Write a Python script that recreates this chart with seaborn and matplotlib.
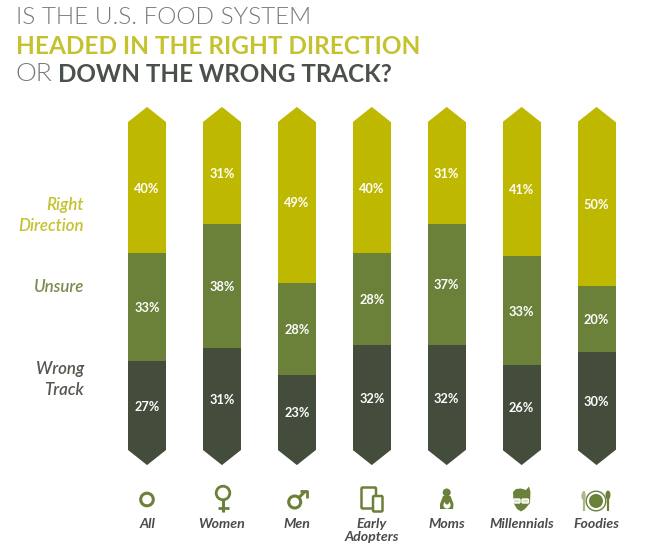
import matplotlib
matplotlib.use("Agg")
import matplotlib.pyplot as plt
from matplotlib.patches import Polygon, Circle, FancyBboxPatch, Ellipse
import pandas as pd
import seaborn as sns

categories = ["All", "Women", "Men", "Early\nAdopters", "Moms", "Millennials", "Foodies"]
right_direction = [40, 31, 49, 40, 31, 41, 50]
unsure = [33, 38, 28, 28, 37, 33, 20]
wrong_track = [27, 31, 23, 32, 32, 26, 30]
series_names = ["Wrong Track", "Unsure", "Right Direction"]

YEL, GRN, DRK = "#BFB800", "#6B8039", "#444C3C"
series_colors = [DRK, GRN, YEL]
W, H = 650, 553
FONT = "Lato"

sns.set_theme(style="white")
plt.rcParams["font.family"] = [FONT, "DejaVu Sans"]

fig = plt.figure(figsize=(W / 100, H / 100), dpi=100, facecolor="white")
ax = fig.add_axes([109.6 / W, 1 - 450 / H, 524.4 / W, 328 / H])
ax.patch.set_alpha(0)

df = pd.DataFrame({"group": categories, "Wrong Track": wrong_track,
                   "Unsure": unsure, "Right Direction": right_direction})
bottom = [0] * len(categories)
layers = []
for name, color in zip(series_names, series_colors):
    n = len(ax.patches)
    sns.barplot(data=df, x="group", y=name, color=color, width=0.507, bottom=bottom,
                saturation=1, ax=ax, linewidth=0, order=categories)
    for p, v in zip(ax.patches[n:], df[name]):
        ax.text(p.get_x() + p.get_width() / 2, p.get_y() + p.get_height() / 2 - 0.3,
                f"{v}%", ha="center", va="center", color="white",
                fontsize=9.2, fontweight="bold")
    layers.append(ax.patches[n:])
    bottom = [b + v for b, v in zip(bottom, df[name])]

CAP = 4.6  # arrow height in percent units
for p in layers[0]:
    x0, x1 = p.get_x(), p.get_x() + p.get_width()
    ax.add_patch(Polygon([(x0, 0), (x1, 0), ((x0 + x1) / 2, -CAP)], closed=True,
                         fc=DRK, ec="none", clip_on=False))
for p in layers[2]:
    x0, x1 = p.get_x(), p.get_x() + p.get_width()
    top = p.get_y() + p.get_height()
    ax.add_patch(Polygon([(x0, top), (x1, top), ((x0 + x1) / 2, top + CAP)], closed=True,
                         fc=YEL, ec="none", clip_on=False))

ax.set_xlim(-0.5, 6.5)
ax.set_ylim(0, 100)
ax.set_xlabel("")
ax.set_ylabel("")
ax.set_yticks([])
ax.set_xticks(range(len(categories)))
ax.set_xticklabels(categories, fontsize=10.2, fontweight="bold", fontstyle="italic",
                   color="#4A4C4C", linespacing=1.05)
ax.tick_params(axis="x", length=0, pad=49)
sns.despine(ax=ax, left=True, bottom=True)

# overlay in image pixels for title, side labels and icons
ov = fig.add_axes([0, 0, 1, 1], zorder=5)
ov.set_xlim(0, W)
ov.set_ylim(H, 0)
ov.axis("off")
ov.patch.set_alpha(0)

ov.text(15.5, 18, "IS THE U.S. FOOD SYSTEM", fontsize=17.6, fontweight=300, color="#77787A", va="center")
ov.text(15.5, 46, "HEADED IN THE RIGHT DIRECTION", fontsize=17.6, fontweight="bold", color="#C5C230", va="center")
ov.text(15.5, 74, "OR", fontsize=19, fontweight=300, color="#77787A", va="center")
ov.text(58, 74, "DOWN THE WRONG TRACK?", fontsize=17.4, fontweight="bold", color="#4A504A", va="center")

for y, s, c in [(205, "Right", "#C5C230"), (226, "Direction", "#C5C230"), (287, "Unsure", "#7A8C50"),
                (369, "Wrong", "#55584F"), (390, "Track", "#55584F")]:
    ov.text(84, y, s, ha="right", va="center", color=c, fontsize=12.2,
            fontweight="semibold", fontstyle="italic")

IC = "#6B8039"
def ring(cx, cy, r, lw=2.4):
    ov.add_patch(Circle((cx, cy), r, fc="none", ec=IC, lw=lw))
def line(xs, ys, lw=2.2, c=IC):
    ov.plot(xs, ys, color=c, lw=lw, solid_capstyle="butt")

# All
ring(147, 499.5, 6.3, 2.2)
# Women
ring(223, 493, 6.8, 2)
line([223, 223], [500, 512])
line([217.5, 228.5], [508, 508], 2)
# Men
ring(294.7, 502, 6, 2.2)
line([299, 305.5], [497.5, 491])
line([299.5, 306.5, 306.5], [491, 491, 498], 2)
# Early adopters
ov.add_patch(FancyBboxPatch((361.5, 487.5), 14.5, 21, boxstyle="round,pad=0,rounding_size=1.2", fc="white", ec=IC, lw=1.8))
ov.add_patch(FancyBboxPatch((373, 496), 9.5, 15.5, boxstyle="round,pad=0,rounding_size=1.2", fc="white", ec=IC, lw=1.8))
# Moms
ov.add_patch(Circle((446.7, 492.5), 4, fc=IC, ec="none"))
ov.add_patch(Polygon([(443, 496), (450.5, 496), (453.5, 504), (453, 509), (440, 509), (440, 504)], closed=True, fc=IC, ec="none"))
ov.add_patch(Circle((447, 505), 3.6, fc="white", ec="none"))
ov.add_patch(Circle((447, 502.5), 2, fc=IC, ec="none"))
# Millennials
ov.add_patch(Polygon([(513, 492), (516, 489), (521, 488.5), (526, 490), (529, 486.5), (530.5, 492), (530, 503),
                      (525, 509), (521, 511.5), (517, 509), (513.5, 503)], closed=True, fc=IC, ec="none"))
ov.add_patch(FancyBboxPatch((513.5, 499), 6.5, 4, boxstyle="round,pad=0,rounding_size=1", fc="#DDE3C8", ec="white", lw=1))
ov.add_patch(FancyBboxPatch((522, 499), 6.5, 4, boxstyle="round,pad=0,rounding_size=1", fc="#DDE3C8", ec="white", lw=1))
# Foodies
ring(596, 501, 9.8, 1)
ov.add_patch(Circle((596, 501), 7, fc=IC, ec="none"))
line([583.5, 583.5], [491, 511], 1.6, "#A9B98A")
ov.add_patch(Ellipse((583.5, 496), 4.4, 8, fc="#A9B98A", ec="none"))
line([608, 608], [495, 511], 1.6)
ov.add_patch(Ellipse((608, 495), 5, 9, fc=IC, ec="none"))

fig.savefig("out.png", dpi=100, facecolor="white")
